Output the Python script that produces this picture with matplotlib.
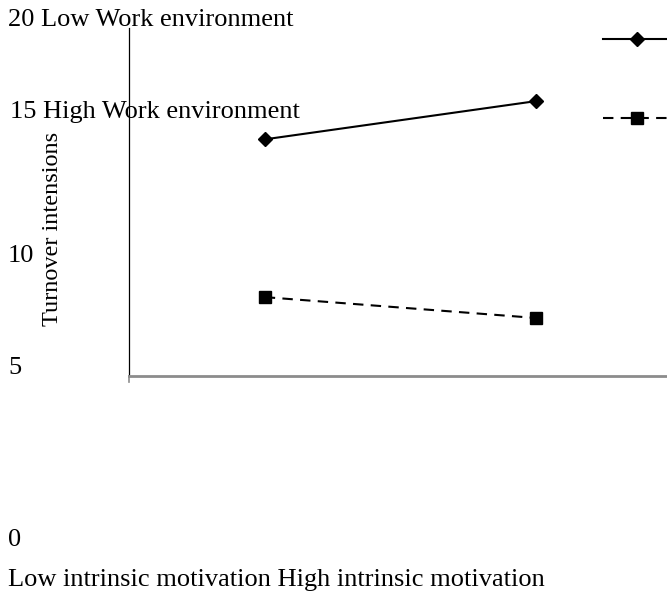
import matplotlib.pyplot as plt
import matplotlib.lines as mlines

W, H = 667, 594

categories = ['Low intrinsic motivation', 'High intrinsic motivation']
low_work = [15.2, 16.85]
high_work = [8.4, 7.5]
series_names = ['Low Work environment', 'High Work environment']
y_tick_labels = ['20', '15', '10', '5', '0']

plt.rcParams['font.family'] = ['Liberation Serif', 'DejaVu Serif']
plt.rcParams['font.size'] = 19

fig = plt.figure(figsize=(W / 100, H / 100), dpi=100)

def fx(px):
    return px / W

def fy(py):
    return 1 - py / H

# plot area (right edge runs a bit past the figure, as in the original)
left, right, top, bottom = 129, 672, 28, 376
ax = fig.add_axes([fx(left), fy(bottom), fx(right - left), fy(top) - fy(bottom)])

dash = (0, (5, 3.5))
x = [1, 2]
ax.plot(x, low_work, color='black', lw=1.5, marker='D', ms=7, clip_on=False)
ax.plot(x, high_work, color='black', lw=1.5, ls=dash, marker='s', ms=9, clip_on=False)
ax.set_xlim(0.5, 2.5)
ax.set_ylim(5, 20)
ax.set_xticks([])
ax.set_yticks([])
for s in ['top', 'right']:
    ax.spines[s].set_visible(False)
ax.spines['left'].set_linewidth(0.9)
ax.spines['bottom'].set_color('#8c8c8c')
ax.spines['bottom'].set_linewidth(2)
ax.plot([0.5, 0.5], [5, 4.75], color='#8c8c8c', lw=1.2, clip_on=False)

# legend handles (their labels fell to the left side of the page)
h1 = mlines.Line2D([], [], color='black', lw=1.5, marker='D', ms=7)
h2 = mlines.Line2D([], [], color='black', lw=1.5, ls=dash, marker='s', ms=9)
fig.legend([h1, h2], ['', ''], loc='upper left', bbox_to_anchor=(fx(603), fy(31)),
           frameon=False, fontsize=16, handlelength=3.06, labelspacing=2.62,
           borderpad=0, borderaxespad=0)

# loose texts of the broken layout
fig.text(fx(8), fy(20), y_tick_labels[0] + ' ' + series_names[0], va='center', ha='left')
fig.text(fx(10), fy(112), y_tick_labels[1] + ' ' + series_names[1], va='center', ha='left')
fig.text(fx(8), fy(256), y_tick_labels[2], va='center', ha='left')
fig.text(fx(8), fy(368), y_tick_labels[3], va='center', ha='left')
fig.text(fx(8), fy(540), y_tick_labels[4], va='center', ha='left')
fig.text(fx(8), fy(580), ' '.join(categories), va='center', ha='left')
fig.text(fx(53), fy(229), 'Turnover intensions', rotation=90, va='center', ha='center',
         fontsize=17.5)

fig.savefig('out.png', dpi=100)
